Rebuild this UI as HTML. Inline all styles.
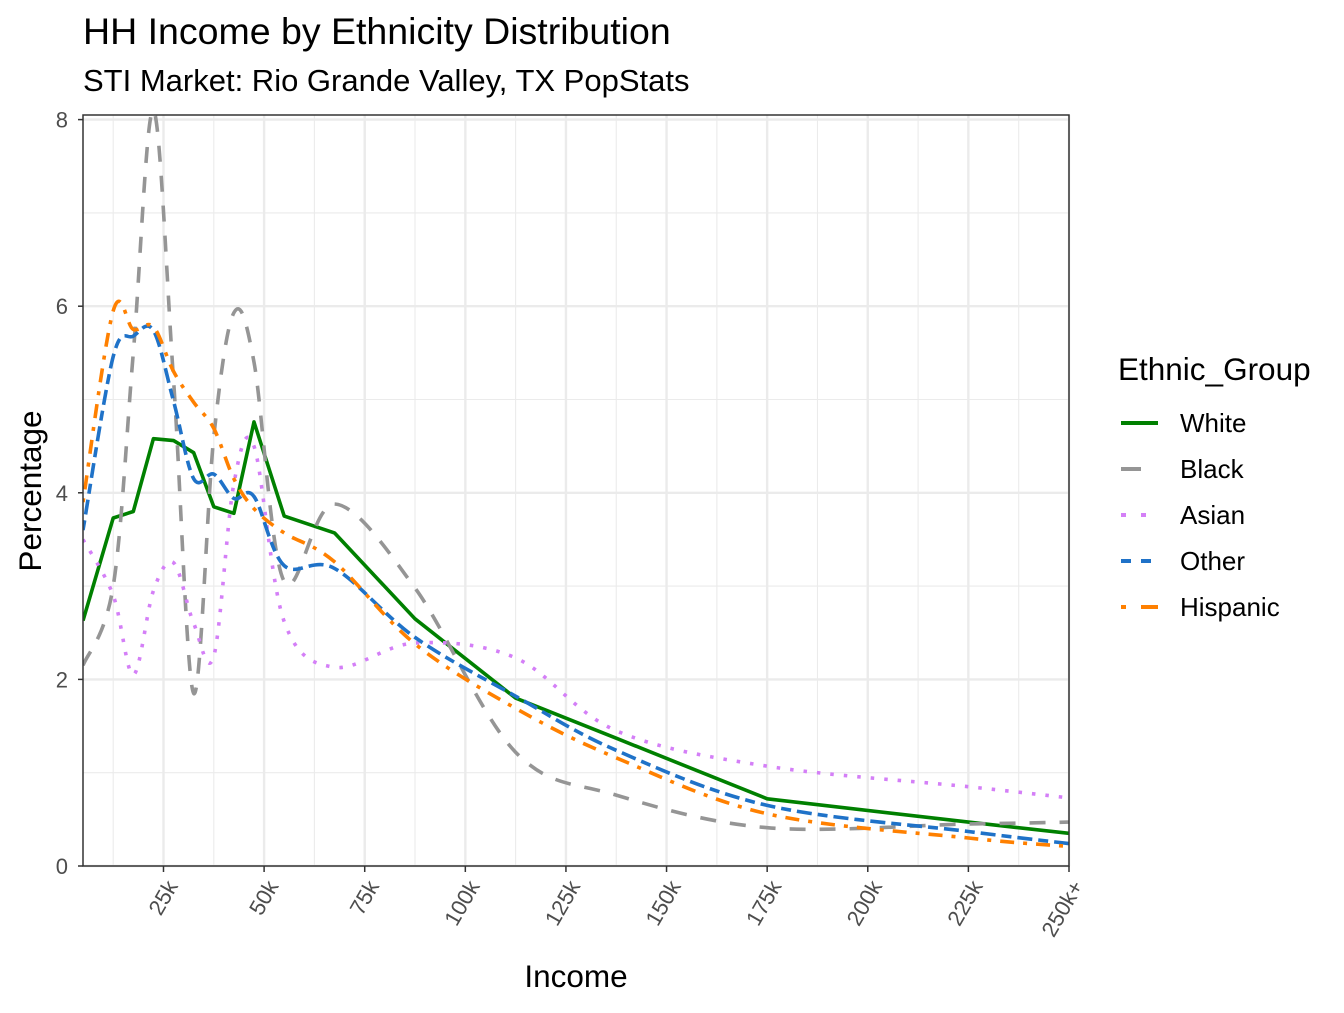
<!DOCTYPE html>
<html><head><meta charset="utf-8"><style>
body{margin:0;background:#fff;}
svg text{font-family:"Liberation Sans",Arial,sans-serif;}
</style></head><body>
<svg id="chart" width="1344" height="1008" viewBox="0 0 1344 1008" xmlns="http://www.w3.org/2000/svg">
<rect width="1344" height="1008" fill="#fff"/>
<text x="83" y="44" font-size="37.5" fill="#000">HH Income by Ethnicity Distribution</text>
<text x="83" y="91" font-size="31" fill="#000">STI Market: Rio Grande Valley, TX PopStats</text>
<g id="grid"></g>
<g id="series"></g>
<rect x="83" y="115" width="986" height="751" fill="none" stroke="#333" stroke-width="1.5"/>
<g id="axes"></g>
<text x="576" y="987" font-size="31.5" text-anchor="middle" fill="#000">Income</text>
<text transform="translate(41,491) rotate(-90)" font-size="31.5" text-anchor="middle" fill="#000">Percentage</text>
<g id="legend">
<text x="1118" y="380" font-size="31.5" fill="#000">Ethnic_Group</text>
</g>
</svg>
<script>
const incomeK = [5,12.5,17.5,22.5,27.5,32.5,37.5,42.5,47.5,55,67.5,87.5,112.5,137.5,175,225,250];
const whiteVals = [2.63,3.73,3.8,4.58,4.56,4.43,3.85,3.78,4.76,3.75,3.57,2.65,1.8,1.37,0.72,0.47,0.35];
const blackVals = [2.15,3.0,5.5,8.1,5.2,1.85,4.6,5.93,5.4,3.05,3.88,2.98,1.22,0.76,0.41,0.45,0.47];
const asianVals = [3.5,2.9,2.05,2.95,3.25,2.6,2.25,4.1,4.5,2.62,2.13,2.39,2.23,1.45,1.07,0.85,0.73];
const otherVals = [3.6,5.46,5.68,5.74,4.98,4.15,4.2,3.94,3.96,3.22,3.19,2.45,1.82,1.24,0.65,0.37,0.24];
const hispanicVals = [3.9,5.95,5.75,5.78,5.3,4.97,4.69,4.15,3.83,3.57,3.26,2.38,1.69,1.16,0.56,0.3,0.21];
const xTickVals = [25,50,75,100,125,150,175,200,225,250];
const xTickLabels = ["25k","50k","75k","100k","125k","150k","175k","200k","225k","250k+"];
const yTickVals = [0,2,4,6,8];
const seriesNames = ["White","Black","Asian","Other","Hispanic"];

const X0=83,X1=1069,Y0=866,YT=115;
const xMin=5,xMax=250,yPer=93.3;
const xs=k=>X0+(k-xMin)/(xMax-xMin)*(X1-X0);
const ys=v=>Y0-v*yPer;
const NS="http://www.w3.org/2000/svg";
function mk(tag,attrs,parent){const e=document.createElementNS(NS,tag);for(const k in attrs)e.setAttribute(k,attrs[k]);parent.appendChild(e);return e;}
const grid=document.getElementById('grid'),axes=document.getElementById('axes'),ser=document.getElementById('series'),leg=document.getElementById('legend');
mk('rect',{x:X0,y:YT,width:X1-X0,height:Y0-YT,fill:'#fff'},grid);
for(let v=1;v<8;v+=2){const l=mk('line',{x1:X0,x2:X1,y1:ys(v),y2:ys(v),stroke:'#ebebeb','stroke-width':1.1},grid);

}
for(let k=12.5;k<250;k+=25){const l=mk('line',{x1:xs(k),x2:xs(k),y1:YT,y2:Y0,stroke:'#ebebeb','stroke-width':1.1},grid);

}
yTickVals.forEach(v=>{const l=mk('line',{x1:X0,x2:X1,y1:ys(v),y2:ys(v),stroke:'#ebebeb','stroke-width':2.4},grid);


const t=mk('line',{x1:X0-5,x2:X0,y1:ys(v),y2:ys(v),stroke:'#333','stroke-width':1.5},axes);


const tx=mk('text',{x:X0-15,y:ys(v)+8,'font-size':22,'text-anchor':'end',fill:'#4d4d4d'},axes);tx.textContent=v;

});
xTickVals.forEach((k,i)=>{const l=mk('line',{x1:xs(k),x2:xs(k),y1:YT,y2:Y0,stroke:'#ebebeb','stroke-width':2.4},grid);


const t=mk('line',{x1:xs(k),x2:xs(k),y1:Y0,y2:Y0+6,stroke:'#333','stroke-width':1.5},axes);


const tx=mk('text',{transform:`translate(${xs(k)+15},${Y0+20}) rotate(-60)`,'font-size':22,'text-anchor':'end',fill:'#4d4d4d'},axes);tx.textContent=xTickLabels[i];

});

function linPath(vals){return vals.map((v,i)=>(i?'L':'M')+xs(incomeK[i]).toFixed(1)+','+ys(v).toFixed(1)).join('');}
function smoothPath(vals){const p=vals.map((v,i)=>[xs(incomeK[i]),ys(v)]);let d='M'+p[0][0]+','+p[0][1];
for(let i=0;i<p.length-1;i++){const a=p[Math.max(0,i-1)],b=p[i],c=p[i+1],e=p[Math.min(p.length-1,i+2)];
const c1=[b[0]+(c[0]-a[0])/6,b[1]+(c[1]-a[1])/6],c2=[c[0]-(e[0]-b[0])/6,c[1]-(e[1]-b[1])/6];
d+=`C${c1[0].toFixed(1)},${c1[1].toFixed(1)} ${c2[0].toFixed(1)},${c2[1].toFixed(1)} ${c[0].toFixed(1)},${c[1].toFixed(1)}`;}return d;}
const styles=[
 {vals:whiteVals,color:'#008000',dash:'',smooth:false},
 {vals:blackVals,color:'#959595',dash:'16 14',smooth:true},
 {vals:asianVals,color:'#d47ff7',dash:'3.5 10',smooth:true},
 {vals:otherVals,color:'#1f72c8',dash:'10 6 15 6',smooth:true},
 {vals:hispanicVals,color:'#ff8000',dash:'4 9 14 9',smooth:true}];
const clip=mk('clipPath',{id:'pclip'},mk('defs',{},document.getElementById('chart')));
mk('rect',{x:X0,y:YT,width:X1-X0,height:Y0-YT},clip);
styles.forEach((s,i)=>{const p=mk('path',{d:s.smooth?smoothPath(s.vals):linPath(s.vals),fill:'none',stroke:s.color,'stroke-width':3.6,'stroke-dasharray':s.dash,'stroke-linejoin':'round','clip-path':'url(#pclip)'},ser);


const y=423+i*46;
const g=mk('g',{},leg);


mk('line',{x1:1121,x2:1158,y1:y,y2:y,stroke:s.color,'stroke-width':4,'stroke-dasharray':s.dash?(i==1?'20 20':i==2?'5 15':i==3?'10 10':'5 15 20 15'):''},g);
const t=mk('text',{x:1180,y:y+9,'font-size':26,fill:'#000'},g);t.textContent=seriesNames[i];});
</script>
</body></html>
